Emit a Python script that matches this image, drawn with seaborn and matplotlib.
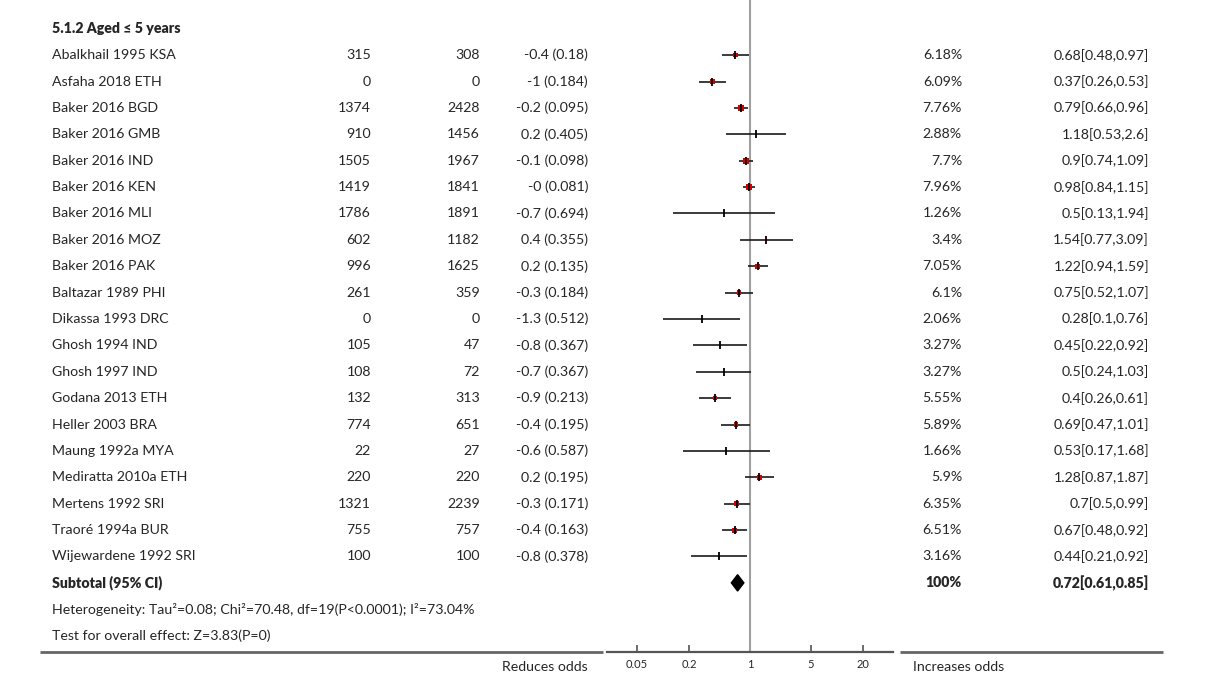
import numpy as np
import pandas as pd
import matplotlib
matplotlib.use("Agg")
import matplotlib.pyplot as plt
from matplotlib.transforms import blended_transform_factory
import seaborn as sns

# data
group_title = "5.1.2 Aged \u2264 5 years"
studies = ["Abalkhail 1995 KSA", "Asfaha 2018 ETH", "Baker 2016 BGD", "Baker 2016 GMB",
           "Baker 2016 IND", "Baker 2016 KEN", "Baker 2016 MLI", "Baker 2016 MOZ",
           "Baker 2016 PAK", "Baltazar 1989 PHI", "Dikassa 1993 DRC", "Ghosh 1994 IND",
           "Ghosh 1997 IND", "Godana 2013 ETH", "Heller 2003 BRA", "Maung 1992a MYA",
           "Mediratta 2010a ETH", "Mertens 1992 SRI", "Traoré 1994a BUR", "Wijewardene 1992 SRI"]
n_treat = [315, 0, 1374, 910, 1505, 1419, 1786, 602, 996, 261,
           0, 105, 108, 132, 774, 22, 220, 1321, 755, 100]
n_ctrl = [308, 0, 2428, 1456, 1967, 1841, 1891, 1182, 1625, 359,
          0, 47, 72, 313, 651, 27, 220, 2239, 757, 100]
log_or = ["-0.4 (0.18)", "-1 (0.184)", "-0.2 (0.095)", "0.2 (0.405)", "-0.1 (0.098)",
          "-0 (0.081)", "-0.7 (0.694)", "0.4 (0.355)", "0.2 (0.135)", "-0.3 (0.184)",
          "-1.3 (0.512)", "-0.8 (0.367)", "-0.7 (0.367)", "-0.9 (0.213)", "-0.4 (0.195)",
          "-0.6 (0.587)", "0.2 (0.195)", "-0.3 (0.171)", "-0.4 (0.163)", "-0.8 (0.378)"]
weights = [6.18, 6.09, 7.76, 2.88, 7.7, 7.96, 1.26, 3.4, 7.05, 6.1,
           2.06, 3.27, 3.27, 5.55, 5.89, 1.66, 5.9, 6.35, 6.51, 3.16]
odds = [0.68, 0.37, 0.79, 1.18, 0.9, 0.98, 0.5, 1.54, 1.22, 0.75,
        0.28, 0.45, 0.5, 0.4, 0.69, 0.53, 1.28, 0.7, 0.67, 0.44]
ci_low = [0.48, 0.26, 0.66, 0.53, 0.74, 0.84, 0.13, 0.77, 0.94, 0.52,
          0.1, 0.22, 0.24, 0.26, 0.47, 0.17, 0.87, 0.5, 0.48, 0.21]
ci_high = [0.97, 0.53, 0.96, 2.6, 1.09, 1.15, 1.94, 3.09, 1.59, 1.07,
           0.76, 0.92, 1.03, 0.61, 1.01, 1.68, 1.87, 0.99, 0.92, 0.92]

pooled_or = 0.72
pooled_low = 0.61
pooled_high = 0.85
pooled_weight = 100
heterogeneity = "Heterogeneity: Tau\u00b2=0.08; Chi\u00b2=70.48, df=19(P<0.0001); I\u00b2=73.04%"
overall_effect = "Test for overall effect: Z=3.83(P=0)"
x_ticks = [0.05, 0.2, 1, 5, 20]
left_label = "Reduces odds"
right_label = "Increases odds"

df = pd.DataFrame({
    "study": studies, "n1": n_treat, "n2": n_ctrl, "logor": log_or,
    "weight": weights, "or": odds, "lo": ci_low, "hi": ci_high,
})
df["row"] = np.arange(1, len(df) + 1)

sns.set_theme(style="white")
plt.rcParams["font.family"] = ["Lato", "DejaVu Sans"]

W, H = 1215, 699
fig = plt.figure(figsize=(W / 100, H / 100), dpi=100)

# forest axes: x from 607 to 893 px, y from top to the axis line at 652 px
ax = fig.add_axes([607 / W, 1 - 652 / H, (893 - 607) / W, 652 / H])
ax.set_xscale("log")
lim = 10 ** 1.645
ax.set_xlim(1 / lim, lim)
ax.set_ylim(23.62, -1.09)
ax.patch.set_alpha(0)
for s in ["top", "left", "right"]:
    ax.spines[s].set_visible(False)
ax.spines["bottom"].set_color("#555555")
ax.spines["bottom"].set_linewidth(1.6)
ax.set_yticks([])
ax.set_xticks(x_ticks)
ax.set_xticklabels([f"{t:g}" for t in x_ticks])
ax.minorticks_off()
ax.tick_params(axis="x", direction="in", length=5, width=1.2, color="#555555",
               labelsize=8, pad=5, bottom=True)

ax.axvline(1, color="#a0a0a0", lw=1.5, zorder=1)

# confidence intervals
ax.hlines(df["row"], df["lo"], df["hi"], color="#1a1a1a", lw=1.2, zorder=2)
# weighted squares
sizes = (df["weight"] * 0.75 * 0.72) ** 2
sns.scatterplot(x=df["or"], y=df["row"], s=sizes, marker="s", color="#d40000",
                edgecolor="none", linewidth=0, ax=ax, zorder=3, legend=False)
# point ticks
ax.scatter(df["or"], df["row"], marker="|", s=26, color="black", linewidths=1.3, zorder=4)
ax.set_xlabel("")
ax.set_ylabel("")

# pooled diamond
sub_row = len(df) + 1
ax.fill([pooled_low, pooled_or, pooled_high, pooled_or],
        [sub_row, sub_row - 0.31, sub_row, sub_row + 0.31], color="black", zorder=5)

# text columns
tr = blended_transform_factory(fig.transFigure, ax.transData)
fs = 10.2
bold = "heavy"
ax.text(52 / W, 0, group_title, transform=tr, ha="left", va="center",
        fontsize=fs, fontweight=bold)
for _, r in df.iterrows():
    y = r["row"]
    ax.text(52 / W, y, r["study"], transform=tr, ha="left", va="center", fontsize=fs)
    ax.text(371 / W, y, f"{r['n1']}", transform=tr, ha="right", va="center", fontsize=fs)
    ax.text(480 / W, y, f"{r['n2']}", transform=tr, ha="right", va="center", fontsize=fs)
    ax.text(588 / W, y, r["logor"], transform=tr, ha="right", va="center", fontsize=fs)
    ax.text(962 / W, y, f"{r['weight']:g}%", transform=tr, ha="right", va="center", fontsize=fs)
    ax.text(1149 / W, y, f"{r['or']:g}[{r['lo']:g},{r['hi']:g}]", transform=tr,
            ha="right", va="center", fontsize=fs)

ax.text(52 / W, sub_row, "Subtotal (95% CI)", transform=tr, ha="left", va="center",
        fontsize=fs, fontweight=bold)
ax.text(962 / W, sub_row, f"{pooled_weight}%", transform=tr, ha="right", va="center",
        fontsize=fs, fontweight=bold)
ax.text(1149 / W, sub_row, f"{pooled_or:g}[{pooled_low:g},{pooled_high:g}]", transform=tr,
        ha="right", va="center", fontsize=fs, fontweight=bold)
ax.text(52 / W, sub_row + 1, heterogeneity, transform=tr, ha="left", va="center", fontsize=fs)
ax.text(52 / W, sub_row + 2, overall_effect, transform=tr, ha="left", va="center", fontsize=fs)

# rule lines beside the forest axis
rule_tr = blended_transform_factory(fig.transFigure, ax.transAxes)
ax.plot([40 / W, 603 / W], [0, 0], transform=rule_tr, color="#666666", lw=2,
        solid_capstyle="butt", clip_on=False)
ax.plot([900 / W, 1163 / W], [0, 0], transform=rule_tr, color="#666666", lw=2,
        solid_capstyle="butt", clip_on=False)

fig.text(588 / W, 1 - 667 / H, left_label, ha="right", va="center", fontsize=fs)
fig.text(913 / W, 1 - 667 / H, right_label, ha="left", va="center", fontsize=fs)

fig.savefig("out.png", dpi=100)
